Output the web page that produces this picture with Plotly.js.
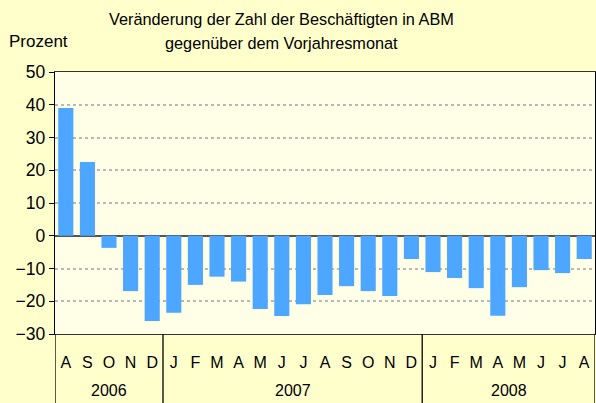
<!DOCTYPE html>
<html>
<head>
<meta charset="utf-8">
<script src="https://cdn.plot.ly/plotly-3.0.1.min.js"></script>
<style>html,body{margin:0;padding:0;background:#FFFFCC;}#chart{width:596px;height:403px;}</style>
</head>
<body>
<div id="chart"></div>
<script>
const months = ["A","S","O","N","D","J","F","M","A","M","J","J","A","S","O","N","D","J","F","M","A","M","J","J","A"];
const values = [39.0, 22.5, -3.7, -16.9, -26.0, -23.5, -15.0, -12.5, -14.0, -22.4, -24.5, -20.9, -18.1, -15.4, -16.9, -18.4, -7.1, -11.1, -12.9, -16.0, -24.4, -15.7, -10.5, -11.4, -7.1];
const years = ["2006", "2007", "2008"];
const yearCounts = [5, 12, 8];

const idx = months.map((m, i) => i);
const font = "Arial, 'Liberation Sans', sans-serif";

const shapes = [];
const annotations = [];
let start = 0;
const bottomFrac = -69 / 262;
shapes.push({type: "line", xref: "x", yref: "paper", x0: -0.5, x1: -0.5, y0: 0, y1: bottomFrac, line: {color: "#000", width: 1.3}});
years.forEach((y, k) => {
  const end = start + yearCounts[k];
  annotations.push({xref: "x", yref: "paper", x: (start + end - 1) / 2, y: 0, yanchor: "top", yshift: -46, text: y, showarrow: false, font: {family: font, size: 16, color: "#000"}});
  shapes.push({type: "line", xref: "x", yref: "paper", x0: end - 0.5, x1: end - 0.5, y0: 0, y1: bottomFrac, line: {color: "#000", width: 1.3}});
  start = end;
});
const tx = (281 - 55) / 540;
annotations.push({xref: "paper", yref: "paper", x: tx, xanchor: "center", y: 1, yanchor: "bottom", yshift: 42, text: "Veränderung der Zahl der Beschäftigten in ABM", showarrow: false, font: {family: font, size: 16.3, color: "#000"}});
annotations.push({xref: "paper", yref: "paper", x: tx, xanchor: "center", y: 1, yanchor: "bottom", yshift: 18, text: "gegenüber dem Vorjahresmonat", showarrow: false, font: {family: font, size: 16.3, color: "#000"}});
annotations.push({xref: "paper", yref: "paper", x: -48/540, xanchor: "left", y: 1, yanchor: "bottom", yshift: 19, text: "Prozent", showarrow: false, font: {family: font, size: 17, color: "#000"}});

Plotly.newPlot("chart", [{
  type: "bar",
  x: idx,
  y: values,
  marker: {color: "#4DA6FF", line: {width: 0}},
  width: 0.7,
  hoverinfo: "skip"
}], {
  width: 596, height: 403,
  margin: {l: 55, r: 1, t: 72, b: 69},
  paper_bgcolor: "#FFFFCC",
  plot_bgcolor: "#FFFFE8",
  showlegend: false,
  xaxis: {
    range: [-0.5, 24.5],
    tickmode: "array", tickvals: idx, ticktext: months,
    ticks: "", showgrid: false, zeroline: false,
    showline: true, mirror: true, linecolor: "#333", linewidth: 1.3,
    tickfont: {family: font, size: 16, color: "#000"},
    ticklabelstandoff: 13,
    fixedrange: true
  },
  yaxis: {
    range: [-30, 50], dtick: 10, tick0: 0,
    ticks: "outside", ticklen: 5, tickcolor: "#000", tickwidth: 1,
    showline: true, mirror: true, linecolor: "#000", linewidth: 1.3,
    showgrid: true, gridcolor: "#b8b8b8", gridwidth: 2, griddash: "dot",
    zeroline: true, zerolinecolor: "#555", zerolinewidth: 1.5,
    tickfont: {family: font, size: 17.5, color: "#000"},
    fixedrange: true
  },
  shapes: shapes,
  annotations: annotations
}, {displayModeBar: false, staticPlot: true});
</script>
</body>
</html>
